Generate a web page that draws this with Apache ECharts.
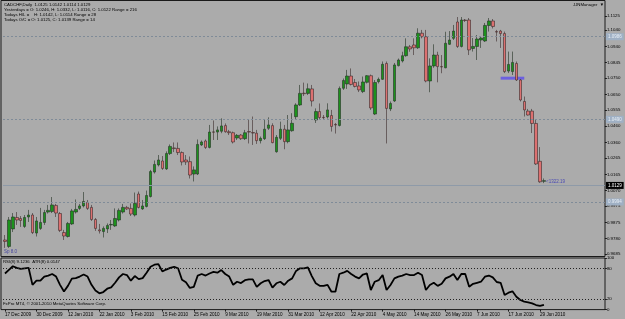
<!DOCTYPE html>
<html>
<head>
<meta charset="utf-8">
<title>CADCHF Daily</title>
<script src="https://cdn.jsdelivr.net/npm/echarts@6.0.0/dist/echarts.min.js"></script>
<style>
html, body { margin: 0; padding: 0; background: #ababab; }
#chart { width: 625px; height: 319px; }
</style>
</head>
<body>
<div id="chart"></div>
<script>
// daily bars, oldest first
var opens = [
  0.9770, 0.9731, 0.9837, 0.9906, 0.9900, 0.9852, 0.9909, 0.9921, 0.9812, 0.9840,
  0.9876, 0.9939, 0.9942, 0.9979, 0.9930, 0.9815, 0.9791, 0.9867, 0.9939, 0.9961,
  0.9976, 0.9997, 0.9967, 0.9894, 0.9831, 0.9821, 0.9837, 0.9861, 0.9855, 0.9891,
  0.9939, 0.9967, 0.9961, 0.9921, 1.0048, 0.9958, 0.9973, 1.0033, 1.0181, 1.0224,
  1.0248, 1.0200, 1.0293, 1.0327, 1.0324, 1.0299, 1.0254, 1.0244, 1.0169, 1.0169,
  1.0345, 1.0369, 1.0330, 1.0424, 1.0423, 1.0428, 1.0462, 1.0425, 1.0419, 1.0387,
  1.0405, 1.0383, 1.0426, 1.0420, 1.0416, 1.0371, 1.0383, 1.0446, 1.0462, 1.0304,
  1.0385, 1.0440, 1.0365, 1.0431, 1.0516, 1.0587, 1.0658, 1.0657, 1.0684, 1.0496,
  1.0547, 1.0512, 1.0514, 1.0523, 1.0469, 1.0463, 1.0688, 1.0714, 1.0762, 1.0723,
  1.0702, 1.0668, 1.0724, 1.0764, 1.0532, 1.0728, 1.0742, 1.0838, 1.0563, 1.0611,
  1.0825, 1.0853, 1.0885, 1.0939, 1.0950, 1.0933, 1.1021, 1.1000, 1.0732, 1.0823,
  1.0889, 1.0819, 1.0812, 1.0954, 1.0990, 1.1089, 1.0941, 1.1101, 1.1101, 1.0929,
  1.0941, 1.0980, 1.0974, 1.1068, 1.1095, 1.1031, 1.1034, 1.1019, 1.0792, 1.0789,
  1.0838, 1.0738, 1.0608, 1.0550, 1.0550, 1.0475, 1.0246, 1.0125
];
var closes = [
  0.9761, 0.9891, 0.9909, 0.9891, 0.9888, 0.9906, 0.9921, 0.9815, 0.9885, 0.9876,
  0.9936, 0.9949, 0.9982, 0.9933, 0.9828, 0.9794, 0.9870, 0.9946, 0.9955, 0.9976,
  1.0003, 0.9961, 0.9894, 0.9840, 0.9825, 0.9840, 0.9858, 0.9864, 0.9900, 0.9949,
  0.9967, 0.9958, 0.9927, 0.9991, 0.9967, 0.9976, 1.0039, 1.0184, 1.0227, 1.0254,
  1.0203, 1.0293, 1.0336, 1.0323, 1.0299, 1.0242, 1.0242, 1.0163, 1.0194, 1.0348,
  1.0363, 1.0330, 1.0423, 1.0422, 1.0436, 1.0460, 1.0425, 1.0419, 1.0363, 1.0403,
  1.0383, 1.0419, 1.0423, 1.0417, 1.0371, 1.0385, 1.0440, 1.0466, 1.0359, 1.0391,
  1.0440, 1.0365, 1.0436, 1.0476, 1.0587, 1.0657, 1.0655, 1.0685, 1.0611, 1.0547,
  1.0511, 1.0510, 1.0557, 1.0457, 1.0466, 1.0687, 1.0735, 1.0762, 1.0711, 1.0699,
  1.0678, 1.0726, 1.0764, 1.0569, 1.0723, 1.0742, 1.0833, 1.0566, 1.0596, 1.0829,
  1.0859, 1.0885, 1.0939, 1.0926, 1.0933, 1.1021, 1.1000, 1.0732, 1.0823, 1.0889,
  1.0819, 1.0817, 1.0960, 1.0980, 1.1034, 1.0941, 1.1101, 1.1098, 1.0920, 1.0941,
  1.0986, 1.0992, 1.1068, 1.1095, 1.1062, 1.1028, 1.1019, 1.0789, 1.0832, 1.0844,
  1.0738, 1.0617, 1.0557, 1.0526, 1.0475, 1.0230, 1.0122, 1.0129
];
var lows = [
  0.9722, 0.9722, 0.9818, 0.9861, 0.9849, 0.9843, 0.9879, 0.9806, 0.9791, 0.9831,
  0.9861, 0.9930, 0.9933, 0.9909, 0.9818, 0.9770, 0.9785, 0.9861, 0.9930, 0.9952,
  0.9967, 0.9952, 0.9885, 0.9825, 0.9809, 0.9785, 0.9812, 0.9831, 0.9849, 0.9882,
  0.9930, 0.9952, 0.9915, 0.9912, 0.9961, 0.9952, 0.9967, 1.0027, 1.0172, 1.0215,
  1.0194, 1.0194, 1.0284, 1.0302, 1.0284, 1.0221, 1.0224, 1.0142, 1.0124, 1.0163,
  1.0339, 1.0321, 1.0324, 1.0375, 1.0375, 1.0416, 1.0419, 1.0405, 1.0354, 1.0375,
  1.0375, 1.0375, 1.0354, 1.0345, 1.0351, 1.0354, 1.0375, 1.0436, 1.0355, 1.0298,
  1.0375, 1.0319, 1.0355, 1.0425, 1.0496, 1.0581, 1.0641, 1.0647, 1.0578, 1.0478,
  1.0499, 1.0496, 1.0505, 1.0426, 1.0414, 1.0457, 1.0678, 1.0684, 1.0705, 1.0693,
  1.0665, 1.0659, 1.0717, 1.0557, 1.0526, 1.0717, 1.0738, 1.0354, 1.0550, 1.0605,
  1.0820, 1.0844, 1.0879, 1.0909, 1.0889, 1.0926, 1.0990, 1.0724, 1.0664, 1.0812,
  1.0724, 1.0779, 1.0809, 1.0950, 1.0980, 1.0932, 1.0935, 1.1089, 1.0889, 1.0910,
  1.0859, 1.0932, 1.0968, 1.1031, 1.1050, 1.0971, 1.0932, 1.0780, 1.0780, 1.0768,
  1.0732, 1.0608, 1.0517, 1.0523, 1.0417, 1.0224, 1.0116, 1.0114
];
var highs = [
  0.9800, 0.9909, 0.9933, 0.9939, 0.9915, 0.9921, 0.9952, 0.9933, 0.9909, 0.9964,
  0.9952, 0.9982, 1.0030, 0.9988, 0.9939, 0.9831, 0.9879, 0.9958, 1.0015, 0.9988,
  1.0060, 1.0012, 0.9982, 0.9903, 0.9867, 0.9852, 0.9870, 0.9891, 0.9961, 0.9961,
  0.9988, 0.9976, 0.9991, 1.0057, 1.0063, 1.0012, 1.0069, 1.0194, 1.0251, 1.0284,
  1.0278, 1.0306, 1.0348, 1.0360, 1.0360, 1.0306, 1.0284, 1.0275, 1.0215, 1.0378,
  1.0372, 1.0378, 1.0466, 1.0493, 1.0457, 1.0506, 1.0475, 1.0436, 1.0426, 1.0411,
  1.0411, 1.0436, 1.0496, 1.0517, 1.0436, 1.0396, 1.0500, 1.0512, 1.0476, 1.0405,
  1.0486, 1.0466, 1.0526, 1.0537, 1.0597, 1.0708, 1.0722, 1.0717, 1.0708, 1.0566,
  1.0596, 1.0526, 1.0597, 1.0557, 1.0478, 1.0699, 1.0747, 1.0799, 1.0808, 1.0744,
  1.0729, 1.0759, 1.0768, 1.0771, 1.0738, 1.0753, 1.0850, 1.0850, 1.0608, 1.0841,
  1.0868, 1.0909, 1.0990, 1.0950, 1.0990, 1.1051, 1.1041, 1.1041, 1.0869, 1.0954,
  1.0909, 1.0889, 1.1030, 1.1034, 1.1071, 1.1119, 1.1119, 1.1107, 1.1113, 1.0992,
  1.1010, 1.1001, 1.1083, 1.1113, 1.1107, 1.1041, 1.1041, 1.1031, 1.0910, 1.0910,
  1.0850, 1.0744, 1.0638, 1.0563, 1.0563, 1.0496, 1.0332, 1.0142
];
// RSI(8), one value per bar
var rsiValues = [
  70, 77, 84, 81, 79, 80, 81, 48, 56, 56,
  64, 66, 69, 64, 48, 35, 46, 60, 61, 64,
  68, 64, 48, 37, 31.5, 34, 40.5, 43, 52, 62.5,
  69, 67, 56, 65, 59, 61, 71.5, 83, 87, 88,
  74, 77.6, 81, 83, 80, 58, 53, 42, 44, 66,
  69, 66, 70, 73, 71.5, 76.6, 69, 64, 48, 54,
  51.5, 57, 58.5, 58.5, 44, 51, 55.4, 57.3, 42.5, 51,
  54, 47.7, 56, 60.5, 75, 80, 80, 81.7, 65, 51,
  46, 46, 48, 34.7, 34.7, 69, 71.5, 75, 69, 64,
  60.5, 68, 70, 38, 54, 57, 67, 38, 47.7, 60.5,
  63.8, 65.7, 69, 67, 67, 71.5, 67, 38, 47.7, 52,
  46, 50, 60.5, 63.8, 69, 57.3, 69, 69, 44.4, 50,
  52, 54, 63.8, 66, 62.5, 53.5, 52, 28.3, 32.8, 35.4,
  25, 18.6, 15.4, 14.1, 12.1, 8.9, 7, 9.1236
];
// one time label every 8 bars
var dateTicks = ['17 Dec 2009', '30 Dec 2009', '12 Jan 2010', '22 Jan 2010', '3 Feb 2010',
  '15 Feb 2010', '25 Feb 2010', '9 Mar 2010', '19 Mar 2010', '31 Mar 2010', '12 Apr 2010',
  '22 Apr 2010', '4 May 2010', '14 May 2010', '26 May 2010', '7 Jun 2010', '17 Jun 2010',
  '29 Jun 2010'];
var priceTicks = [0.9685, 0.9780, 0.9875, 0.9975, 1.0070, 1.0165, 1.0265, 1.0360, 1.0460,
  1.0555, 1.0650, 1.0750, 1.0845, 1.0940, 1.1040, 1.1125];
var rsiTicks = [0, 20, 80, 100];
var rsiLevels = [80, 20];
var levelPrices = [1.0986, 1.0490, 0.9994];
var bidPrice = 1.0129;
var zonePrices = [1.0740, 1.0758];
var zoneBars = [126, 132];

var SLOTS = 153;          // bar slots across the window (empty shift on the right)
var FONT = 'Liberation Sans';
var FRAME = '#1a1a1a';

var categories = [];
for (var i = 0; i < SLOTS; i++) {
  categories.push(i % 8 === 0 && i / 8 < dateTicks.length ? dateTicks[i / 8] : '');
}
var candles = opens.map(function (o, i) {
  return [o, closes[i], lows[i], highs[i]];
});
function isDateSlot(idx) {
  return idx % 8 === 0 && idx / 8 < dateTicks.length;
}

var levelLines = levelPrices.map(function (p) {
  return {
    yAxis: p,
    lineStyle: {color: '#7f8b98', type: [2, 2], width: 1},
    label: {show: true, position: 'end', distance: 1, backgroundColor: '#9fb0c4',
      color: '#e8eef5', fontSize: 4.5, padding: [1, 2], formatter: p.toFixed(4)}
  };
});
levelLines.push({
  yAxis: bidPrice,
  lineStyle: {color: '#8e9aa8', type: 'solid', width: 1},
  label: {show: true, position: 'end', distance: 1, backgroundColor: '#000',
    color: '#fff', fontSize: 4.5, padding: [1, 2], formatter: bidPrice.toFixed(4)}
});

var chart = echarts.init(document.getElementById('chart'));

chart.setOption({
  animation: false,
  backgroundColor: '#ababab',
  textStyle: {fontFamily: FONT},
  grid: [
    {left: 3, top: 1, width: 601.9, height: 255},
    {left: 3, top: 258, width: 601.9, height: 51.6}
  ],
  xAxis: [
    {
      type: 'category', gridIndex: 0, data: categories, boundaryGap: true,
      axisLine: {show: false}, axisTick: {show: false}, axisLabel: {show: false},
      splitLine: {show: false}
    },
    {
      type: 'category', gridIndex: 1, data: categories, boundaryGap: true,
      axisLine: {show: false},
      axisTick: {show: true, interval: isDateSlot, alignWithLabel: true, length: 2,
        lineStyle: {color: FRAME}},
      axisLabel: {show: true, interval: isDateSlot, align: 'left', margin: 3,
        fontSize: 4.6, color: '#000'},
      splitLine: {show: false}
    }
  ],
  yAxis: [
    {
      type: 'value', gridIndex: 0, position: 'right', min: 0.9673, max: 1.1216,
      axisLine: {show: false},
      axisTick: {show: true, length: 2, customValues: priceTicks, lineStyle: {color: FRAME}},
      axisLabel: {show: true, customValues: priceTicks, margin: 2, fontSize: 4.4,
        color: '#000', formatter: function (v) { return v.toFixed(4); }},
      splitLine: {show: false}
    },
    {
      type: 'value', gridIndex: 1, position: 'right', min: 0, max: 100,
      axisLine: {show: false},
      axisTick: {show: true, length: 2, customValues: rsiTicks, lineStyle: {color: FRAME}},
      axisLabel: {show: true, customValues: rsiTicks, margin: 2, fontSize: 4.4, color: '#000'},
      splitLine: {show: false}
    }
  ],
  series: [
    {
      name: 'CADCHF', type: 'candlestick', xAxisIndex: 0, yAxisIndex: 0,
      data: candles, barWidth: 3,
      itemStyle: {color: '#1c921c', color0: '#dc7070', borderColor: '#243024',
        borderColor0: '#3a2a2a', borderColorDoji: '#1e1e1e', borderWidth: 0.6},
      markLine: {silent: true, symbol: 'none', animation: false, data: levelLines},
      markArea: {
        silent: true,
        itemStyle: {color: 'rgba(92, 78, 236, 0.8)'},
        data: [[{xAxis: zoneBars[0], yAxis: zonePrices[0]},
                {xAxis: zoneBars[1], yAxis: zonePrices[1]}]]
      }
    },
    {
      name: 'RSI', type: 'line', xAxisIndex: 1, yAxisIndex: 1,
      data: rsiValues, showSymbol: false, smooth: false,
      lineStyle: {color: '#000', width: 1.8},
      markLine: {
        silent: true, symbol: 'none', label: {show: false},
        lineStyle: {color: '#222', type: [1, 2], width: 1},
        data: rsiLevels.map(function (v) { return {yAxis: v}; })
      }
    }
  ],
  graphic: [
    // window frames
    {type: 'rect', shape: {x: 1, y: 0.5, width: 604, height: 256}, silent: true,
      style: {fill: null, stroke: FRAME, lineWidth: 1}},
    {type: 'rect', shape: {x: 1, y: 258, width: 604, height: 51.6}, silent: true,
      style: {fill: null, stroke: FRAME, lineWidth: 1}},
    // info text
    {type: 'text', x: 4, y: 2.5, style: {text: 'CADCHF,Daily  1.0125 1.0142 1.0114 1.0129',
      font: '4.3px ' + FONT, fill: '#000'}},
    {type: 'text', x: 4, y: 7.8, style: {text: 'Yesterdays = O: 1.0246, H: 1.0332, L: 1.0116, C: 1.0122 Range = 216',
      font: '4.3px ' + FONT, fill: '#000'}},
    {type: 'text', x: 4, y: 13, style: {text: 'Todays H/L =    H: 1.0142, L: 1.0114 Range = 28',
      font: '4.3px ' + FONT, fill: '#000'}},
    {type: 'text', x: 4, y: 18.2, style: {text: 'Todays O/C = O: 1.0125, C: 1.0139 Range = 14',
      font: '4.3px ' + FONT, fill: '#000'}},
    {type: 'text', x: 573, y: 3, style: {text: 'JJNManager  \u25BC', font: '4.3px ' + FONT, fill: '#000'}},
    {type: 'text', x: 4, y: 249, style: {text: 'Sp 8.0', font: '4.5px ' + FONT, fill: '#4646a0'}},
    {type: 'text', x: 546, y: 179.5, style: {text: '<1322.19', font: '4.5px ' + FONT, fill: '#4a4ab4'}},
    {type: 'text', x: 3, y: 260, style: {text: 'RSI(8) 9.1236  ATR(8) 0.0147', font: '4.3px ' + FONT, fill: '#000'}},
    {type: 'text', x: 3, y: 301.5, style: {text: 'FxPro MT4, \u00A9 2001-2010 MetaQuotes Software Corp.',
      font: '4.3px ' + FONT, fill: '#000'}}
  ]
});
</script>
</body>
</html>
